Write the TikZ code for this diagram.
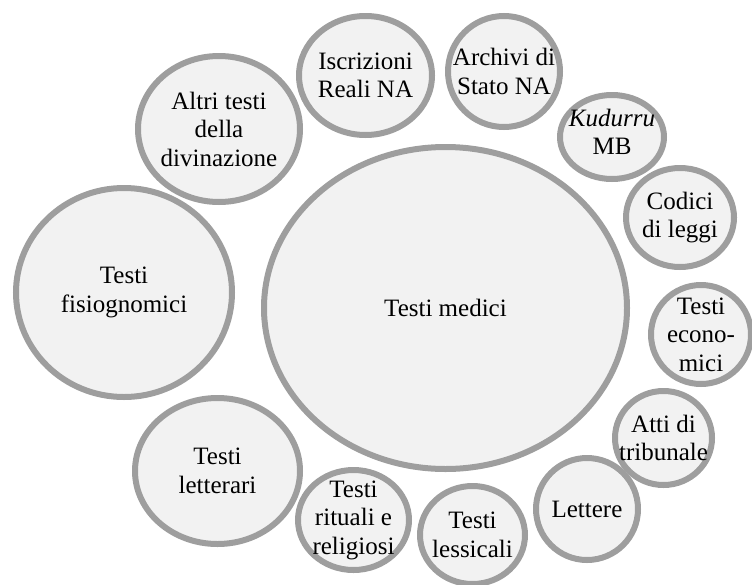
\documentclass[tikz,border=0pt]{standalone}
\usepackage{fontspec}
\setmainfont{Liberation Serif}
\usetikzlibrary{shapes.geometric}
\definecolor{ringgray}{RGB}{158,158,158}
\definecolor{blobfill}{RGB}{242,242,242}
\begin{document}
\begin{tikzpicture}[
  x=1pt, y=-1pt,
  blob/.style={
    ellipse,
    draw=ringgray,
    fill=blobfill,
    line width=6pt,
    inner sep=0pt
  },
  lbl/.style={
    align=center,
    inner sep=0pt,
    font=\fontsize{25}{28.5}\selectfont
  }
]
\useasboundingbox (0,0) rectangle (752,584);
\node[blob, minimum width=363, minimum height=322] (medici) at (445.5,308) {};
\node[blob, minimum width=216, minimum height=209] (fisio) at (124,292.5) {};
\node[blob, minimum width=162, minimum height=146] (divin) at (219,129) {};
\node[blob, minimum width=133, minimum height=119] (iscr) at (365.5,75.5) {};
\node[blob, minimum width=112, minimum height=111] (archivi) at (504,71.5) {};
\node[blob, minimum width=104, minimum height=84] (kudurru) at (612,137) {};
\node[blob, minimum width=108, minimum height=99] (codici) at (680,217.5) {};
\node[blob, minimum width=100, minimum height=99] (econ) at (701,334.5) {};
\node[blob, minimum width=97, minimum height=94] (atti) at (663.5,438) {};
\node[blob, minimum width=102, minimum height=102] (lettere) at (587,509) {};
\node[blob, minimum width=105, minimum height=98] (lessic) at (472.5,535) {};
\node[blob, minimum width=111, minimum height=100] (ritual) at (353.5,520) {};
\node[blob, minimum width=165, minimum height=146] (letter) at (217.5,471) {};

\node[lbl] (t-medici) at (medici) {Testi medici};
\node[lbl] (t-fisio) at (fisio) {Testi\\fisiognomici};
\node[lbl] (t-divin) at (divin) {Altri testi\\della\\divinazione};
\node[lbl] (t-iscr) at (iscr) {Iscrizioni\\Reali NA};
\node[lbl] (t-archivi) at (archivi) {Archivi di\\Stato NA};
\node[lbl] (t-kudurru) at ([yshift=5]kudurru) {\textit{Kudurru}\\MB};
\node[lbl] (t-codici) at (codici) {Codici\\di leggi};
\node[lbl] (t-econ) at (econ) {Testi\\econo-\\mici};
\node[lbl] (t-atti) at (atti) {Atti di\\tribunale};
\node[lbl] (t-lettere) at (lettere) {Lettere};
\node[lbl] (t-lessic) at (lessic) {Testi\\lessicali};
\node[lbl] (t-ritual) at (ritual) {Testi\\rituali e\\religiosi};
\node[lbl] (t-letter) at (letter) {Testi\\letterari};
\end{tikzpicture}
\end{document}
